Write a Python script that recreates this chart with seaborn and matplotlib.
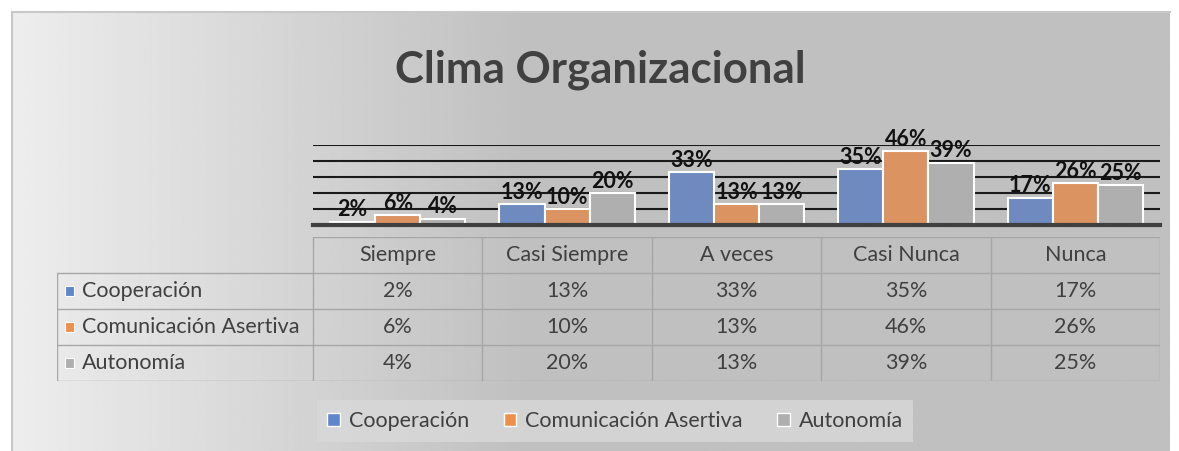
import numpy as np
import pandas as pd
import seaborn as sns
import matplotlib.pyplot as plt
from matplotlib.patches import Patch, Rectangle

categorias = ['Siempre', 'Casi Siempre', 'A veces', 'Casi Nunca', 'Nunca']
series = ['Cooperación', 'Comunicación Asertiva', 'Autonomía']
cooperacion = [0.02, 0.13, 0.33, 0.35, 0.17]
comunicacion = [0.06, 0.10, 0.13, 0.46, 0.26]
autonomia = [0.04, 0.20, 0.13, 0.39, 0.25]
colores = ['#6086cc', '#ef8f4e', '#afafaf']

valores = [cooperacion, comunicacion, autonomia]
df = pd.DataFrame([(c, s, v) for s, vals in zip(series, valores)
                   for c, v in zip(categorias, vals)],
                  columns=['categoria', 'serie', 'valor'])

sns.set_style('white')
plt.rcParams['font.family'] = ['Lato', 'DejaVu Sans']

W, H = 1179, 451
fig = plt.figure(figsize=(W / 100, H / 100), dpi=100)
fig.patch.set_facecolor('white')

def box(x0, y0, x1, y1):
    # pixel box (top-left origin) -> figure fraction
    return [x0 / W, 1 - y1 / H, (x1 - x0) / W, (y1 - y0) / H]

# gradient background frame
bg = fig.add_axes(box(12, 12, 1170, 451))
g = np.clip(0.93 - (np.linspace(0, 1, 400) / 0.45) * 0.18, 0.75, 1)
img = np.tile(g, (50, 1))
bg.imshow(img, cmap='gray', vmin=0, vmax=1, aspect='auto', extent=[0, 1, 0, 1])
bg.set_xlim(0, 1); bg.set_ylim(0, 1)
bg.set_xticks([]); bg.set_yticks([])
for s in ['right', 'bottom']:
    bg.spines[s].set_visible(False)
for s in ['top', 'left']:
    bg.spines[s].set_color('#c8c8c8')
    bg.spines[s].set_linewidth(1.5)

fig.text(600 / W, 1 - 70 / H, 'Clima Organizacional', ha='center', va='center',
         fontsize=31.5, fontweight='bold', color='#404040')

# bars
ax = fig.add_axes(box(313, 145, 1160, 225))
ax.set_facecolor('none')
sns.barplot(data=df, x='categoria', y='valor', hue='serie', palette=colores,
            width=0.8, edgecolor='white', linewidth=1.5, ax=ax, legend=False)
ax.set_ylim(0, 0.5)
ax.set_yticks([0.1, 0.2, 0.3, 0.4, 0.5])
ax.yaxis.grid(True, color='#1a1a1a', linewidth=1.5)
ax.set_axisbelow(True)
ax.tick_params(left=False, bottom=False, labelleft=False, labelbottom=False)
ax.set_xlabel(''); ax.set_ylabel('')
for s in ['top', 'left', 'right']:
    ax.spines[s].set_visible(False)
ax.spines['bottom'].set_color('#404040')
ax.spines['bottom'].set_linewidth(3)
for cont, vals in zip(ax.containers, valores):
    ax.bar_label(cont, labels=[f'{v:.0%}' for v in vals], fontsize=15.5,
                 fontweight='bold', color='#111111', padding=1)

# data table
fs = 15.5
label_w = 256 / 169.4
tb = fig.add_axes(box(57, 237, 1160, 381))
tb.axis('off')
lc = '#a6a6a6'
for i, c in enumerate(categorias):
    tb.text(i, 0.5, c, ha='center', va='center', fontsize=fs, color='#404040')
for r, (s, vals, col) in enumerate(zip(series, valores, colores), start=1):
    tb.add_patch(Rectangle((-0.5 - label_w + 0.045, r + 0.5 - 0.14), 0.055, 0.28,
                           facecolor=col, edgecolor='white', lw=0.8))
    tb.text(-0.5 - label_w + 0.15, r + 0.5, s, ha='left', va='center',
            fontsize=fs, color='#404040')
    for i, v in enumerate(vals):
        tb.text(i, r + 0.5, f'{v:.0%}', ha='center', va='center',
                fontsize=fs, color='#404040')
# grid lines of the table
tb.plot([-0.5, 4.5], [0, 0], color=lc, lw=1)
for r in range(1, 5):
    tb.plot([-0.5 - label_w, 4.5], [r, r], color=lc, lw=1)
tb.plot([-0.5 - label_w] * 2, [1, 4], color=lc, lw=1)
for i in range(6):
    tb.plot([i - 0.5] * 2, [0, 4], color=lc, lw=1)
tb.set_xlim(-0.5 - label_w, 4.5)
tb.set_ylim(4, 0)

# legend
handles = [Patch(facecolor=c, edgecolor='white', label=s) for s, c in zip(series, colores)]
leg = fig.legend(handles=handles, loc='center', bbox_to_anchor=(615 / W, 1 - 421 / H),
                 ncol=3, fontsize=fs, frameon=True, fancybox=False,
                 handlelength=0.6, handleheight=0.6, handletextpad=0.4,
                 columnspacing=1.6, borderpad=0.5)
leg.get_frame().set_facecolor('#d9d9d9')
leg.get_frame().set_edgecolor('none')
leg.get_frame().set_alpha(0.8)
for t in leg.get_texts():
    t.set_color('#404040')

fig.savefig('out.png', dpi=100)
